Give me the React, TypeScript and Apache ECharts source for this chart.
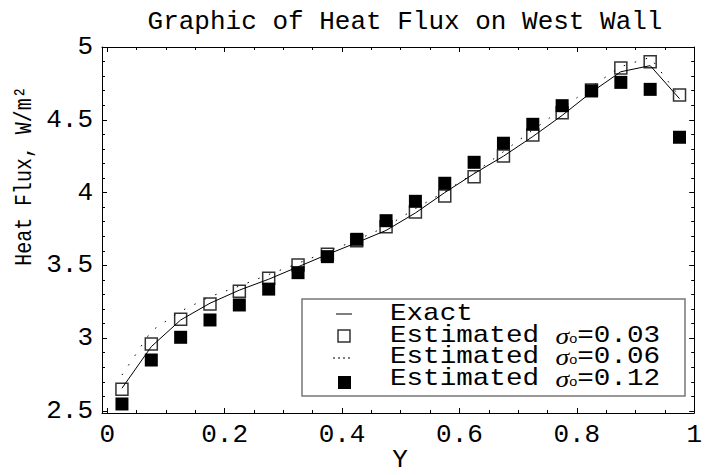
import React, { useEffect, useRef } from "react";
import * as echarts from "echarts";

const xValues = [0.025, 0.075, 0.125, 0.175, 0.225, 0.275, 0.325, 0.375, 0.425, 0.475, 0.525, 0.575, 0.625, 0.675, 0.725, 0.775, 0.825, 0.875, 0.925, 0.975];
const exactFlux = [2.656, 2.942, 3.125, 3.24, 3.33, 3.405, 3.49, 3.575, 3.656, 3.74, 3.86, 4.0, 4.13, 4.25, 4.385, 4.53, 4.69, 4.83, 4.872, 4.645];
const estimated003 = [2.649, 2.96, 3.13, 3.235, 3.322, 3.411, 3.503, 3.576, 3.67, 3.766, 3.867, 3.977, 4.109, 4.251, 4.396, 4.549, 4.705, 4.856, 4.899, 4.67];
const estimated006 = [2.747, 3.049, 3.185, 3.285, 3.358, 3.437, 3.514, 3.594, 3.674, 3.766, 3.89, 4.006, 4.133, 4.281, 4.43, 4.575, 4.727, 4.865, 4.929, 4.659];
const estimated012 = [2.548, 2.85, 3.006, 3.125, 3.228, 3.337, 3.45, 3.56, 3.679, 3.807, 3.94, 4.064, 4.208, 4.339, 4.469, 4.597, 4.698, 4.757, 4.709, 4.38];

const xMajorTicks = [0, 0.2, 0.4, 0.6, 0.8, 1];
const xMinorTicks = [0.05, 0.1, 0.15, 0.25, 0.3, 0.35, 0.45, 0.5, 0.55, 0.65, 0.7, 0.75, 0.85, 0.9, 0.95];
const yMajorTicks = [2.5, 3, 3.5, 4, 4.5, 5];
const yMinorTicks = [2.6, 2.7, 2.8, 2.9, 3.1, 3.2, 3.3, 3.4, 3.6, 3.7, 3.8, 3.9, 4.1, 4.2, 4.3, 4.4, 4.6, 4.7, 4.8, 4.9];

const seriesNames = ["Exact", "Estimated σo=0.03", "Estimated σo=0.06", "Estimated σo=0.12"];
const titleText = "Graphic of Heat Flux on West Wall";
const xTitle = "Y";
const yTitle = "Heat Flux, W/m²";

const FONT = "Liberation Mono";
const X_MIN = -0.009;
const X_MAX = 1.0;
const Y_MIN = 2.486;
const Y_MAX = 5.0;

const pair = (ys: number[]) => xValues.map((x, i) => [x, ys[i]]);

function makeAxis(kind: "x" | "y", position: string, ticks: number[], len: number, showLine: boolean, showLabel: boolean) {
  return {
    type: "value",
    gridIndex: 0,
    position,
    min: kind === "x" ? X_MIN : Y_MIN,
    max: kind === "x" ? X_MAX : Y_MAX,
    axisLine: { show: showLine, onZero: false, lineStyle: { color: "#000", width: 1 } },
    axisTick: { show: true, inside: true, length: len, customValues: ticks, lineStyle: { color: "#000", width: 1 } },
    axisLabel: showLabel
      ? {
          show: true,
          customValues: ticks,
          margin: 9,
          color: "#000",
          fontFamily: FONT,
          fontSize: 26,
          formatter: (v: number) => String(+v.toFixed(2)),
        }
      : { show: false },
    splitLine: { show: false },
  };
}

export default function App() {
  const ref = useRef<HTMLDivElement>(null);
  useEffect(() => {
    if (!ref.current) return;
    const chart = echarts.init(ref.current, undefined, { renderer: "svg" });
    const LF = 23;
    const richStyles = {
      a: { fontFamily: FONT, fontSize: LF, fill: "#000", lineHeight: 18 },
      g: { fontFamily: "Liberation Serif", fontStyle: "italic", fontSize: LF, fill: "#000", lineHeight: 18 },
      s: { fontFamily: "Liberation Sans", fontSize: 12, fill: "#000", verticalAlign: "bottom", lineHeight: 18, padding: [7, 0, 0, 0] },
    };
    const legendRow = (label: string) => `{a|Estimated }{g|σ}{s|o}{a|=${label}}`;
    const legendText = (y: number, text: string, rich: boolean) => ({
      type: "text",
      x: 390,
      y,
      scaleX: 1.2,
      style: {
        text,
        rich: rich ? richStyles : undefined,
        fontFamily: FONT,
        fontSize: LF,
        lineHeight: 18,
        fill: "#000",
        align: "left",
        verticalAlign: "middle",
      },
    });
    chart.setOption({
      animation: false,
      backgroundColor: "#fff",
      grid: { left: 102, top: 47, right: 6, bottom: 62, containLabel: false },
      xAxis: [
        makeAxis("x", "bottom", xMajorTicks, 5, true, true),
        makeAxis("x", "bottom", xMinorTicks, 3, false, false),
        makeAxis("x", "top", xMajorTicks, 5, true, false),
        makeAxis("x", "top", xMinorTicks, 3, false, false),
      ],
      yAxis: [
        makeAxis("y", "left", yMajorTicks, 5, true, true),
        makeAxis("y", "left", yMinorTicks, 3, false, false),
        makeAxis("y", "right", yMajorTicks, 5, true, false),
        makeAxis("y", "right", yMinorTicks, 3, false, false),
      ],
      series: [
        {
          name: seriesNames[1],
          type: "scatter",
          data: pair(estimated003),
          symbol: "rect",
          symbolSize: 12,
          itemStyle: { color: "rgba(0,0,0,0)", borderColor: "#333", borderWidth: 1.5, opacity: 1 },
          z: 2,
        },
        {
          name: seriesNames[3],
          type: "scatter",
          data: pair(estimated012),
          symbol: "rect",
          symbolSize: 13,
          itemStyle: { color: "#000", opacity: 1 },
          z: 3,
        },
        {
          name: seriesNames[0],
          type: "line",
          data: pair(exactFlux),
          symbol: "none",
          lineStyle: { color: "#000", width: 1 },
          z: 4,
        },
        {
          name: seriesNames[2],
          type: "line",
          data: pair(estimated006),
          symbol: "none",
          lineStyle: { color: "#000", width: 1, type: [1.5, 10] },
          z: 4,
        },
      ],
      graphic: [
        {
          type: "text",
          x: 405,
          y: 22,
          style: { text: titleText, fontFamily: FONT, fontSize: 26, fill: "#000", align: "center", verticalAlign: "middle" },
        },
        {
          type: "text",
          x: 400,
          y: 460,
          style: { text: xTitle, fontFamily: FONT, fontSize: 26, lineHeight: 24, fill: "#000", align: "center", verticalAlign: "middle" },
        },
        {
          type: "text",
          x: 25,
          y: 176,
          rotation: Math.PI / 2,
          scaleX: 0.83,
          style: { text: yTitle, fontFamily: FONT, fontSize: 24, fill: "#000", align: "center", verticalAlign: "middle" },
        },
        {
          type: "group",
          z: 10,
          children: [
            {
              type: "rect",
              shape: { x: 302, y: 299, width: 383, height: 97 },
              style: { fill: "#fff", stroke: "#777", lineWidth: 1.5 },
            },
            { type: "line", shape: { x1: 336, y1: 314, x2: 352, y2: 314 }, style: { stroke: "#000", lineWidth: 1 } },
            { type: "rect", shape: { x: 338, y: 330, width: 12, height: 12 }, style: { fill: "none", stroke: "#333", lineWidth: 1.5 } },
            { type: "line", shape: { x1: 333, y1: 358, x2: 352, y2: 358 }, style: { stroke: "#000", lineWidth: 1, lineDash: [2, 3] } },
            { type: "rect", shape: { x: 338, y: 376, width: 13, height: 13 }, style: { fill: "#000" } },
            legendText(314, seriesNames[0], false),
            legendText(336, legendRow("0.03"), true),
            legendText(357, legendRow("0.06"), true),
            legendText(379, legendRow("0.12"), true),
          ],
        },
      ],
    });
    return () => chart.dispose();
  }, []);
  return <div ref={ref} style={{ position: "fixed", left: 0, top: 0, width: 705, height: 475 }} />;
}
